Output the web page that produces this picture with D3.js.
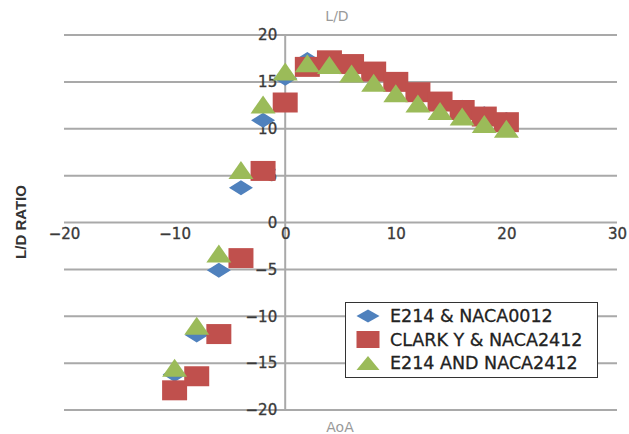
<!DOCTYPE html>
<html>
<head>
<meta charset="utf-8">
<script src="https://cdn.jsdelivr.net/npm/d3@7"></script>
<style>
  html, body { margin: 0; padding: 0; background: #fff; }
  svg { display: block; }
</style>
</head>
<body>
<svg id="chart" width="629" height="434"></svg>
<script>
// Angle of attack (degrees) shared by all three series
const aoa = [-10, -8, -6, -4, -2, 0, 2, 4, 6, 8, 10, 12, 14, 16, 18, 20];

// L/D ratio per airfoil combination
const e214Naca0012   = [-16.2, -12.0, -5.1, 3.7, 10.9, 15.4, 17.4, 17.1, 16.6, 15.8, 14.8, 13.7, 13.1, 12.3, 11.6, 11.0];
const clarkYNaca2412 = [-17.9, -16.4, -11.9, -3.8, 5.5, 12.8, 16.6, 17.3, 16.9, 16.1, 15.0, 13.9, 12.9, 12.0, 11.3, 10.7];
const e214Naca2412   = [-15.5, -11.0, -3.3, 5.6, 12.6, 16.1, 17.0, 16.8, 15.9, 14.9, 13.8, 12.7, 11.9, 11.3, 10.5, 10.0];

const seriesNames = ["E214 & NACA0012", "CLARK Y & NACA2412", "E214 AND NACA2412"];
const xTicks = [-20, -10, 0, 10, 20, 30];
const yTicks = [-20, -15, -10, -5, 0, 5, 10, 15, 20];

const series = [
  { name: seriesNames[0], values: e214Naca0012,   shape: "diamond",  color: "#4f81bd" },
  { name: seriesNames[1], values: clarkYNaca2412, shape: "square",   color: "#c0504d" },
  { name: seriesNames[2], values: e214Naca2412,   shape: "triangle", color: "#9bbb59" }
];

const svg = d3.select("#chart");

const x = d3.scaleLinear().domain([-20, 30]).range([64, 617]);
const y = d3.scaleLinear().domain([-20, 20]).range([410, 35]);

// marker outlines, centred on the data point (slightly wider than tall)
function markerPath(shape, w, h) {
  const hw = w / 2, hh = h / 2;
  if (shape === "diamond") return `M0,${-hh}L${hw},0L0,${hh}L${-hw},0Z`;
  if (shape === "square") return `M${-hw},${-hh}H${hw}V${hh}H${-hw}Z`;
  return `M0,${-hh}L${hw},${hh}H${-hw}Z`;
}
const markerSize = {
  diamond: [24, 15],
  square: [25, 20],
  triangle: [25, 18]
};

const fmt = d => d < 0 ? "\u2212" + Math.abs(d) : String(d);

// horizontal gridlines
svg.append("g")
  .selectAll("line")
  .data(yTicks)
  .join("line")
  .attr("x1", x.range()[0])
  .attr("x2", x.range()[1])
  .attr("y1", d => y(d))
  .attr("y2", d => y(d))
  .attr("stroke", "#a9a9a9")
  .attr("stroke-width", 2);

// vertical axis at AoA = 0
svg.append("line")
  .attr("x1", x(0)).attr("x2", x(0))
  .attr("y1", y(20)).attr("y2", y(-20))
  .attr("stroke", "#a9a9a9")
  .attr("stroke-width", 2);

// y tick labels, left of the vertical axis
const gy = svg.append("g")
  .attr("transform", `translate(${x(0)},0)`)
  .call(d3.axisLeft(y).tickValues(yTicks).tickSize(0).tickPadding(8).tickFormat(fmt));
gy.select(".domain").remove();

// x tick labels, hanging below the zero line
const gx = svg.append("g")
  .attr("transform", `translate(0,${y(0)})`)
  .call(d3.axisBottom(x).tickValues(xTicks).tickSize(0).tickPadding(6).tickFormat(fmt));
gx.select(".domain").remove();

svg.selectAll(".tick text")
  .attr("font-family", "DejaVu Sans, sans-serif")
  .attr("font-size", 15)
  .attr("fill", "#3a3a3a")
  .attr("stroke", "#3a3a3a")
  .attr("stroke-width", 0.35);

// data markers: diamonds, then squares, then triangles on top
series.forEach(s => {
  const [w, h] = markerSize[s.shape];
  svg.append("g")
    .selectAll("path")
    .data(s.values.map((v, i) => ({ a: aoa[i], v })))
    .join("path")
    .attr("transform", d => `translate(${x(d.a)},${y(d.v)})`)
    .attr("d", markerPath(s.shape, w, h))
    .attr("fill", s.color);
});

// titles
svg.append("text")
  .attr("x", 337).attr("y", 21)
  .attr("text-anchor", "middle")
  .attr("font-family", "DejaVu Sans, sans-serif")
  .attr("font-size", 14)
  .attr("fill", "#9a9a9a")
  .text("L/D");

svg.append("text")
  .attr("x", 340).attr("y", 432)
  .attr("text-anchor", "middle")
  .attr("font-family", "DejaVu Sans, sans-serif")
  .attr("font-size", 14)
  .attr("fill", "#9a9a9a")
  .text("AoA");

svg.append("text")
  .attr("transform", "translate(26,222) rotate(-90)")
  .attr("text-anchor", "middle")
  .attr("font-family", "Liberation Sans Narrow, Arial Narrow, Liberation Sans, sans-serif")
  .attr("font-weight", "bold")
  .attr("font-size", 15)
  .attr("fill", "#333")
  .text("L/D RATIO");

// legend
const legend = svg.append("g").attr("transform", "translate(345,302)");
legend.append("rect")
  .attr("x", 0.5).attr("y", 0.5)
  .attr("width", 252).attr("height", 75)
  .attr("fill", "#fff")
  .attr("stroke", "#333")
  .attr("stroke-width", 1);

const legendMarker = { diamond: [23, 13], square: [23, 17], triangle: [23, 14] };
const rows = legend.selectAll("g.row")
  .data(series)
  .join("g")
  .attr("class", "row")
  .attr("transform", (d, i) => `translate(23,${14 + i * 23.5})`);
rows.append("path")
  .attr("d", d => markerPath(d.shape, ...legendMarker[d.shape]))
  .attr("fill", d => d.color);
rows.append("text")
  .attr("x", 22)
  .attr("y", 6)
  .attr("font-family", "DejaVu Sans, sans-serif")
  .attr("font-size", 17.5)
  .attr("fill", "#222")
  .attr("stroke", "#222")
  .attr("stroke-width", 0.3)
  .text(d => d.name);
</script>
</body>
</html>
